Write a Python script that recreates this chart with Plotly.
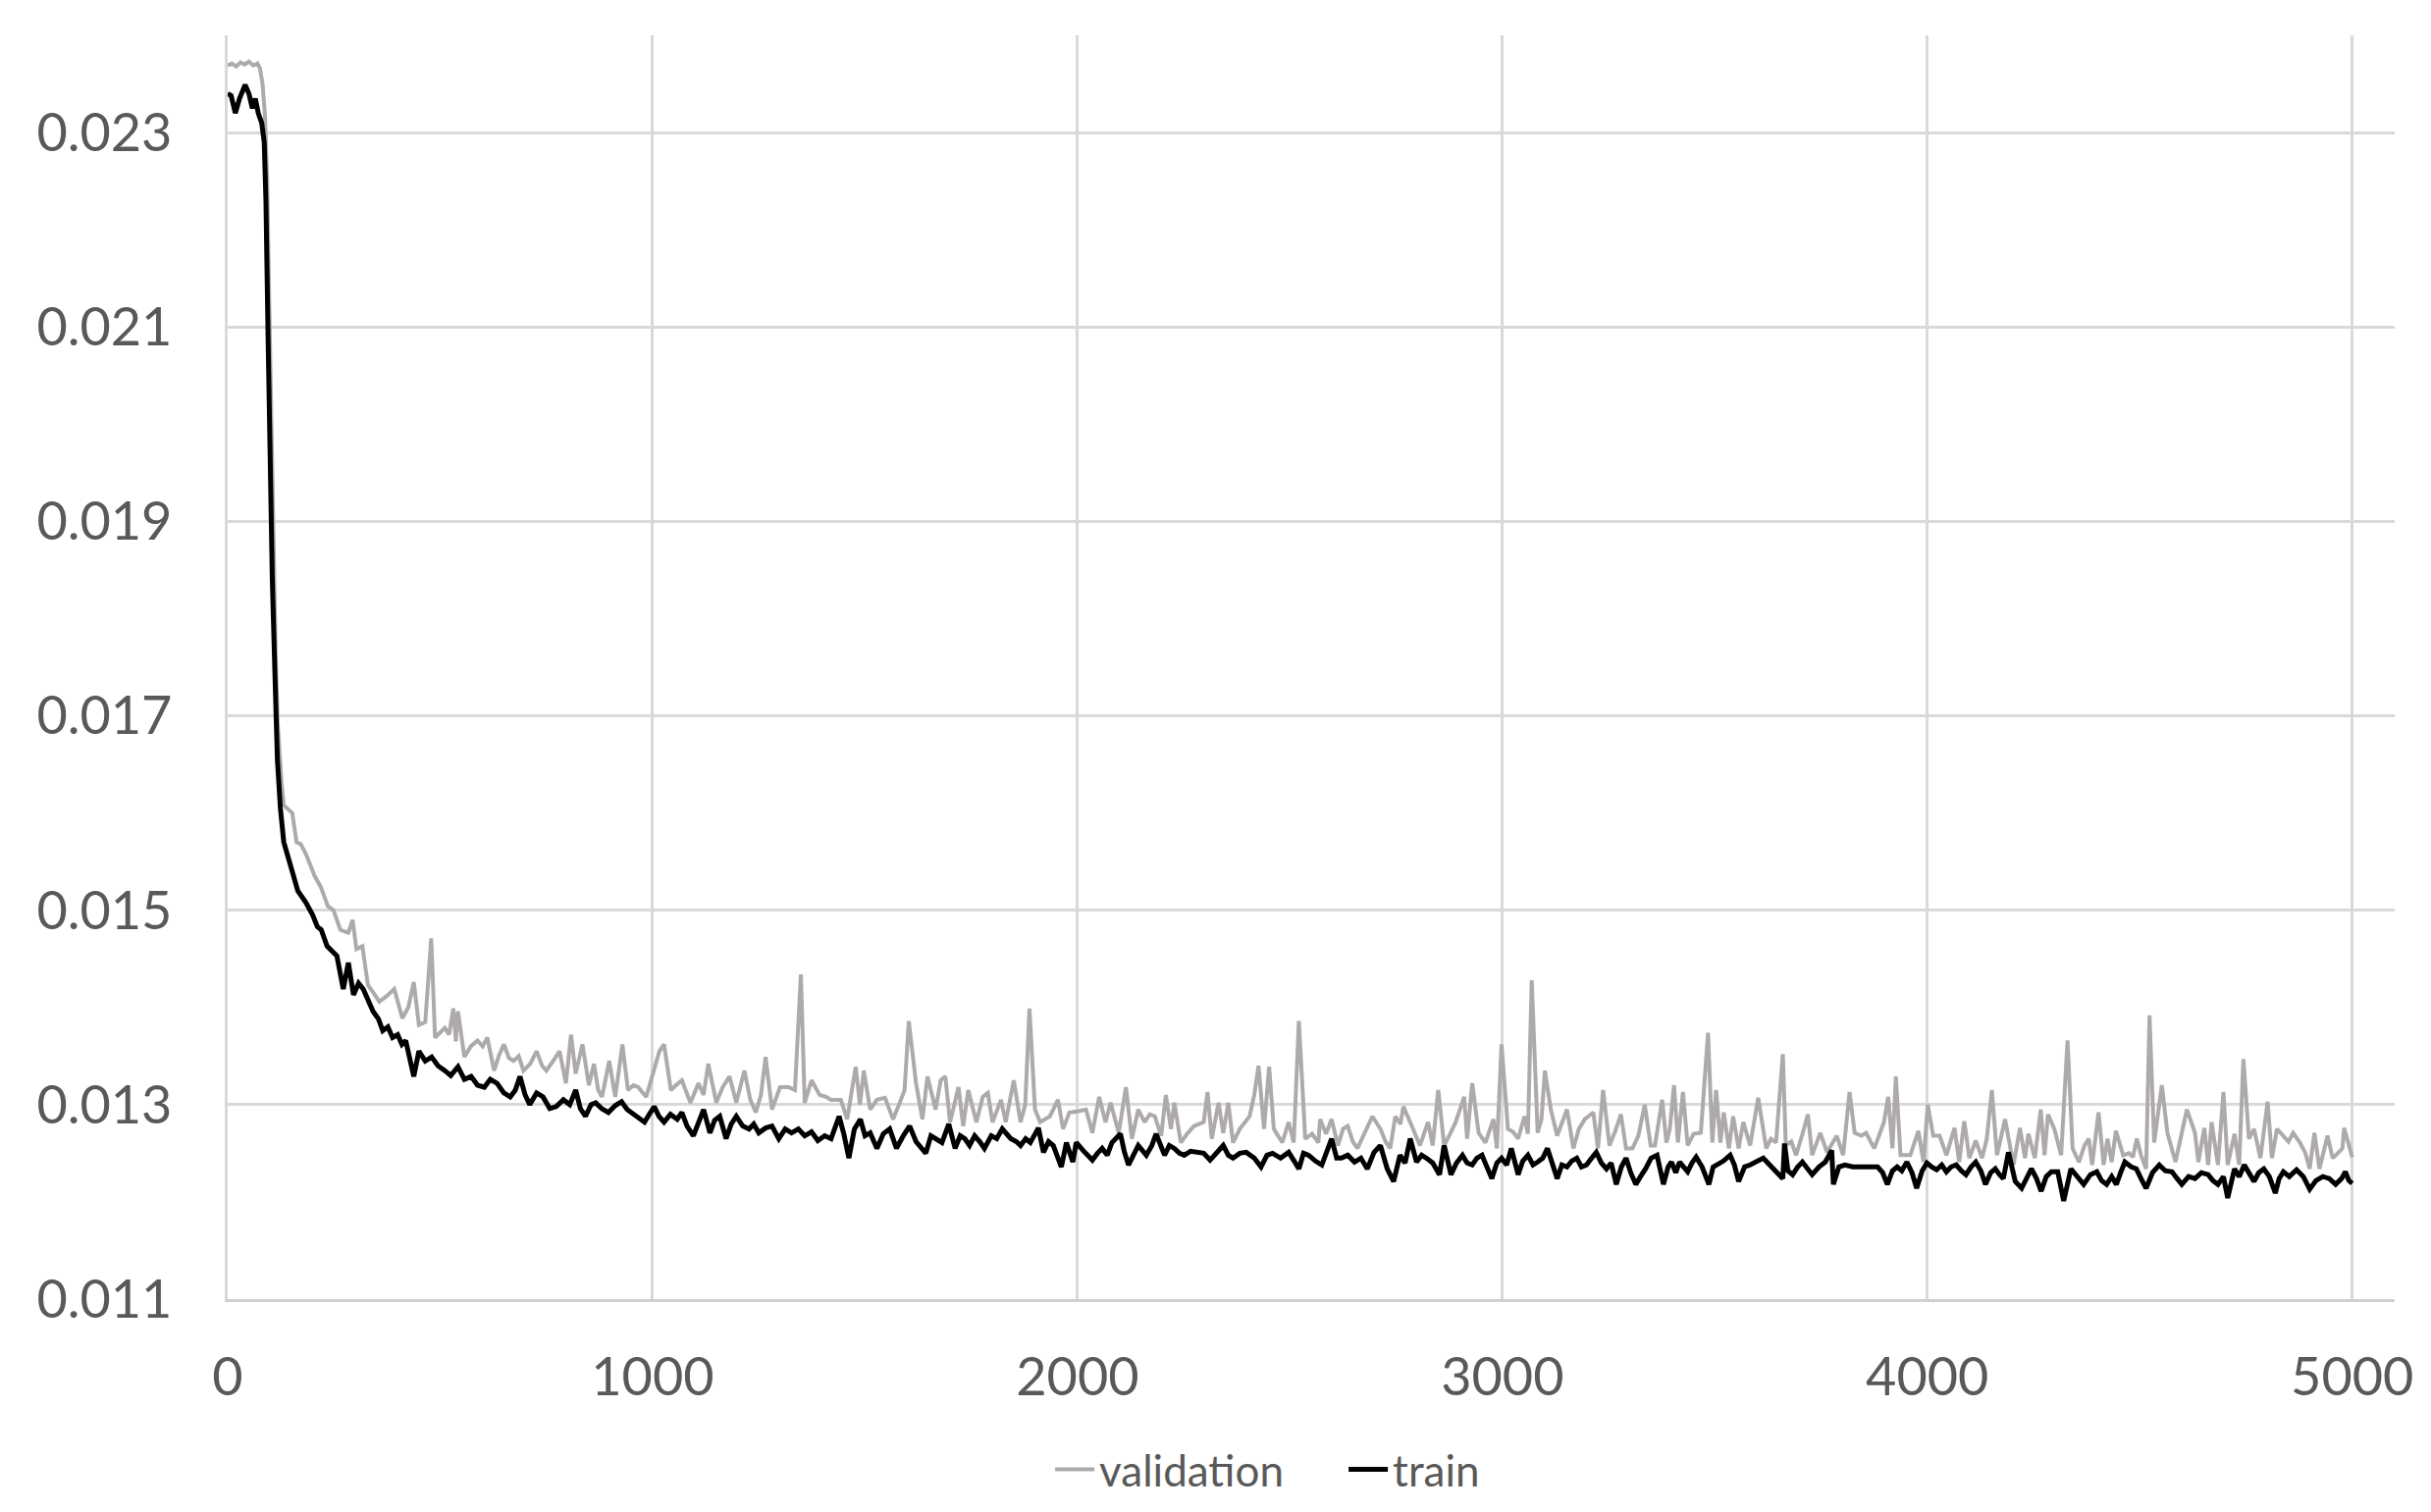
import plotly.graph_objects as go

# (step, loss) pairs
VALIDATION = [
    (0, 0.02369), (10, 0.02371), (20, 0.02368), (30, 0.02372), (40, 0.02370), (50, 0.02373),
    (60, 0.02369), (70, 0.02371), (76, 0.02366), (82, 0.0235), (88, 0.02316), (93, 0.0225),
    (98, 0.0212), (103, 0.0198), (108, 0.0186), (113, 0.0176), (118, 0.0169), (122, 0.01655),
    (127, 0.0163), (132, 0.01608), (140, 0.01605), (152, 0.0160), (162, 0.0157), (172, 0.01568),
    (184, 0.01558), (195, 0.01545), (205, 0.01535), (219, 0.01524), (236, 0.01504), (249, 0.0150),
    (265, 0.0148), (276, 0.01478), (284, 0.01477), (294, 0.0149), (303, 0.0146), (317, 0.01463),
    (330, 0.01423), (343, 0.01415), (357, 0.01406), (375, 0.01412), (392, 0.01419), (411, 0.01389),
    (425, 0.01400), (438, 0.01426), (450, 0.01382), (465, 0.01385), (479, 0.01471), (488, 0.01369),
    (500, 0.01375), (511, 0.01379), (521, 0.01372), (531, 0.01399), (537, 0.01365), (542, 0.01396),
    (557, 0.01349), (572, 0.01360), (588, 0.01366), (600, 0.01360), (611, 0.01369), (627, 0.01335),
    (638, 0.01350), (650, 0.01362), (662, 0.01348), (673, 0.01345), (685, 0.01350), (696, 0.01335),
    (712, 0.01342), (727, 0.01355), (740, 0.01340), (750, 0.01335), (766, 0.01345), (781, 0.01355),
    (796, 0.01322), (808, 0.01372), (819, 0.01332), (835, 0.01362), (850, 0.0132), (862, 0.01342),
    (872, 0.01315), (881, 0.01308), (898, 0.01345), (912, 0.01308), (929, 0.01362), (942, 0.01315),
    (955, 0.01320), (966, 0.01318), (985, 0.01308), (1000, 0.0133), (1016, 0.01355), (1027, 0.01362),
    (1043, 0.01315), (1055, 0.01320), (1069, 0.01325), (1089, 0.01302), (1108, 0.01322), (1120, 0.01310),
    (1131, 0.01342), (1150, 0.01302), (1165, 0.01318), (1181, 0.01329), (1197, 0.01302), (1216, 0.01335),
    (1230, 0.01305), (1243, 0.01292), (1255, 0.01310), (1266, 0.01349), (1281, 0.01295), (1300, 0.01318),
    (1320, 0.01318), (1335, 0.01315), (1349, 0.01434), (1358, 0.01302), (1374, 0.01325), (1393, 0.01310),
    (1408, 0.01308), (1420, 0.01305), (1443, 0.01305), (1458, 0.01285), (1478, 0.01339), (1488, 0.01300),
    (1497, 0.01335), (1512, 0.01295), (1528, 0.01305), (1547, 0.01307), (1566, 0.01285), (1580, 0.01300),
    (1593, 0.01315), (1603, 0.01386), (1620, 0.01322), (1635, 0.01285), (1647, 0.01329), (1666, 0.01295),
    (1678, 0.01325), (1689, 0.01329), (1700, 0.01282), (1710, 0.01300), (1720, 0.01318), (1731, 0.01278),
    (1743, 0.01315), (1762, 0.01282), (1777, 0.01308), (1789, 0.01312), (1800, 0.01282), (1820, 0.01305),
    (1831, 0.01282), (1850, 0.01325), (1866, 0.01282), (1877, 0.01300), (1887, 0.01399), (1900, 0.01295),
    (1912, 0.01282), (1935, 0.01288), (1954, 0.01305), (1966, 0.01275), (1981, 0.01292), (2000, 0.01293),
    (2020, 0.01295), (2035, 0.01271), (2051, 0.01308), (2066, 0.01282), (2078, 0.01302), (2097, 0.01271),
    (2114, 0.01318), (2128, 0.01265), (2143, 0.01295), (2158, 0.01282), (2170, 0.01290), (2182, 0.01288),
    (2197, 0.01268), (2208, 0.0131), (2220, 0.01275), (2228, 0.01302), (2243, 0.01261), (2258, 0.01270),
    (2274, 0.01278), (2297, 0.01282), (2306, 0.01313), (2316, 0.01265), (2332, 0.01302), (2343, 0.01271),
    (2355, 0.01302), (2366, 0.01261), (2382, 0.01275), (2405, 0.01288), (2416, 0.01310), (2426, 0.0134),
    (2439, 0.01275), (2451, 0.01339), (2462, 0.01275), (2482, 0.01261), (2497, 0.01282), (2509, 0.01261),
    (2521, 0.01386), (2536, 0.01265), (2552, 0.01270), (2567, 0.01261), (2571, 0.01285), (2585, 0.01270),
    (2598, 0.01285), (2613, 0.01258), (2625, 0.01275), (2636, 0.01278), (2648, 0.01262), (2659, 0.01255),
    (2676, 0.01272), (2694, 0.01288), (2713, 0.01275), (2725, 0.01262), (2736, 0.01255), (2748, 0.01288),
    (2760, 0.01280), (2767, 0.01298), (2783, 0.01282), (2795, 0.01270), (2806, 0.01258), (2825, 0.01282),
    (2836, 0.01258), (2849, 0.01315), (2863, 0.01258), (2877, 0.01270), (2890, 0.01282), (2910, 0.01308),
    (2917, 0.01265), (2929, 0.01322), (2944, 0.01271), (2960, 0.01261), (2979, 0.01285), (2987, 0.01255),
    (2998, 0.01362), (3013, 0.01275), (3025, 0.01272), (3037, 0.01265), (3052, 0.01288), (3060, 0.01270),
    (3069, 0.01428), (3083, 0.01271), (3092, 0.01285), (3100, 0.01335), (3114, 0.01295), (3129, 0.01268),
    (3140, 0.01280), (3152, 0.01295), (3167, 0.01255), (3180, 0.01275), (3194, 0.01285), (3214, 0.01292),
    (3225, 0.01255), (3237, 0.01315), (3252, 0.01258), (3265, 0.01272), (3279, 0.0129), (3291, 0.01255),
    (3306, 0.01255), (3320, 0.01268), (3335, 0.013), (3349, 0.01258), (3359, 0.01258), (3376, 0.01305),
    (3386, 0.01261), (3394, 0.01275), (3404, 0.0132), (3413, 0.01261), (3425, 0.01313), (3436, 0.01258),
    (3450, 0.01270), (3467, 0.01271), (3484, 0.01374), (3494, 0.01261), (3503, 0.01315), (3513, 0.01261),
    (3521, 0.01292), (3533, 0.01255), (3543, 0.01288), (3556, 0.01255), (3567, 0.01282), (3583, 0.01258),
    (3602, 0.01307), (3621, 0.01255), (3632, 0.01265), (3644, 0.01261), (3660, 0.01352), (3667, 0.01258),
    (3680, 0.01262), (3691, 0.01248), (3705, 0.01268), (3719, 0.0129), (3729, 0.01248), (3748, 0.01271),
    (3764, 0.01251), (3787, 0.01268), (3802, 0.01248), (3817, 0.01313), (3829, 0.01271), (3845, 0.01268),
    (3856, 0.01271), (3875, 0.01255), (3888, 0.01270), (3898, 0.01282), (3908, 0.01308), (3918, 0.01255),
    (3926, 0.01329), (3937, 0.01248), (3960, 0.01248), (3979, 0.01273), (3991, 0.01241), (4001, 0.013),
    (4014, 0.01268), (4029, 0.01268), (4045, 0.01248), (4064, 0.01276), (4075, 0.01241), (4087, 0.01283),
    (4099, 0.01245), (4114, 0.01263), (4129, 0.01245), (4140, 0.01265), (4152, 0.01315), (4164, 0.01248),
    (4183, 0.01285), (4195, 0.01258), (4203, 0.01238), (4218, 0.01276), (4230, 0.01245), (4238, 0.0127),
    (4253, 0.01245), (4267, 0.01295), (4276, 0.01248), (4284, 0.0129), (4299, 0.01275), (4315, 0.01248),
    (4330, 0.01366), (4342, 0.01255), (4357, 0.01241), (4370, 0.01258), (4380, 0.01265), (4388, 0.01238),
    (4403, 0.01292), (4415, 0.01238), (4424, 0.01265), (4434, 0.01241), (4444, 0.01273), (4461, 0.01248),
    (4475, 0.01250), (4484, 0.01246), (4493, 0.01265), (4503, 0.01248), (4515, 0.01234), (4523, 0.01392),
    (4534, 0.01261), (4552, 0.0132), (4565, 0.01271), (4584, 0.01241), (4598, 0.01270), (4611, 0.01295),
    (4630, 0.01271), (4638, 0.01241), (4652, 0.01276), (4661, 0.01238), (4669, 0.01282), (4684, 0.01238),
    (4697, 0.01313), (4707, 0.01238), (4723, 0.0127), (4734, 0.01238), (4744, 0.01347), (4757, 0.01265),
    (4769, 0.01275), (4784, 0.01245), (4801, 0.01303), (4811, 0.01245), (4823, 0.01275), (4838, 0.01268),
    (4850, 0.01262), (4861, 0.01271), (4877, 0.01261), (4890, 0.01250), (4900, 0.01234), (4911, 0.01271),
    (4923, 0.01234), (4942, 0.01268), (4954, 0.01245), (4966, 0.01250), (4977, 0.01255), (4981, 0.01276),
    (4992, 0.01258), (5000, 0.01246),
]

TRAIN = [
    (0, 0.0234), (8, 0.02338), (18, 0.0232), (28, 0.02335), (41, 0.02349), (50, 0.0234),
    (58, 0.02325), (65, 0.02335), (72, 0.0232), (80, 0.0231), (86, 0.0229), (90, 0.0223),
    (95, 0.0209), (100, 0.0194), (105, 0.0184), (112, 0.0173), (117, 0.01655), (124, 0.01605),
    (132, 0.0157), (142, 0.01555), (152, 0.01539), (165, 0.0152), (184, 0.01508), (200, 0.01495),
    (211, 0.01483), (220, 0.0148), (234, 0.01463), (257, 0.01453), (272, 0.01419), (284, 0.01446),
    (296, 0.01413), (308, 0.01425), (319, 0.01419), (330, 0.01408), (342, 0.01396), (355, 0.01388),
    (365, 0.01376), (377, 0.01380), (388, 0.01369), (400, 0.01372), (410, 0.01362), (419, 0.01366),
    (438, 0.01329), (450, 0.01355), (465, 0.01345), (480, 0.01349), (495, 0.01340), (511, 0.01335),
    (525, 0.01330), (542, 0.01339), (557, 0.01326), (573, 0.01329), (588, 0.01320), (604, 0.01318),
    (618, 0.01326), (634, 0.01322), (650, 0.01312), (665, 0.01308), (677, 0.01315), (688, 0.01329),
    (700, 0.01310), (711, 0.0130), (727, 0.01312), (742, 0.01308), (758, 0.01296), (773, 0.01298),
    (790, 0.01305), (805, 0.01300), (819, 0.01315), (830, 0.01296), (842, 0.01288), (855, 0.01300),
    (866, 0.01302), (880, 0.01296), (896, 0.01292), (912, 0.01299), (927, 0.01303), (940, 0.01295),
    (950, 0.01292), (966, 0.01288), (981, 0.01282), (992, 0.01290), (1004, 0.01298), (1015, 0.01288),
    (1027, 0.01282), (1042, 0.01290), (1058, 0.01285), (1069, 0.01292), (1081, 0.01278), (1096, 0.01268),
    (1108, 0.01280), (1120, 0.01295), (1135, 0.01271), (1146, 0.01284), (1158, 0.01288), (1173, 0.01265),
    (1185, 0.01280), (1197, 0.01288), (1212, 0.01278), (1227, 0.01275), (1238, 0.01280), (1250, 0.01271),
    (1266, 0.01276), (1281, 0.01278), (1297, 0.01265), (1312, 0.01275), (1327, 0.01271), (1343, 0.01275),
    (1358, 0.01268), (1374, 0.01272), (1389, 0.01263), (1405, 0.01268), (1420, 0.01265), (1439, 0.01288),
    (1450, 0.01270), (1462, 0.01245), (1475, 0.01275), (1489, 0.01285), (1500, 0.01268), (1512, 0.01271),
    (1528, 0.01255), (1543, 0.01270), (1558, 0.01275), (1574, 0.01255), (1590, 0.01268), (1605, 0.01278),
    (1620, 0.01262), (1643, 0.0125), (1655, 0.01268), (1666, 0.01265), (1681, 0.01261), (1697, 0.01280),
    (1712, 0.01255), (1724, 0.01268), (1735, 0.01265), (1746, 0.01258), (1758, 0.01268), (1770, 0.01262),
    (1781, 0.01255), (1797, 0.01268), (1810, 0.01265), (1823, 0.01275), (1843, 0.01265), (1856, 0.01262),
    (1866, 0.01258), (1878, 0.01265), (1889, 0.01261), (1908, 0.01276), (1920, 0.01251), (1932, 0.01262),
    (1943, 0.01258), (1962, 0.01236), (1974, 0.01261), (1989, 0.01241), (1997, 0.01261), (2015, 0.01252),
    (2035, 0.01243), (2047, 0.01250), (2058, 0.01255), (2070, 0.01248), (2081, 0.01261), (2101, 0.0127),
    (2110, 0.01252), (2120, 0.01238), (2132, 0.01250), (2143, 0.01258), (2162, 0.01248), (2175, 0.01258),
    (2185, 0.0127), (2205, 0.01248), (2216, 0.01258), (2228, 0.01255), (2240, 0.01250), (2251, 0.01248),
    (2266, 0.01252), (2282, 0.01251), (2297, 0.01250), (2312, 0.01243), (2328, 0.01250), (2343, 0.01258),
    (2355, 0.01248), (2366, 0.01245), (2382, 0.01250), (2397, 0.01251), (2416, 0.01245), (2432, 0.01236),
    (2446, 0.01248), (2459, 0.0125), (2478, 0.01245), (2497, 0.01251), (2510, 0.01242), (2521, 0.01234),
    (2532, 0.01250), (2544, 0.01248), (2560, 0.01242), (2575, 0.01238), (2598, 0.01265), (2610, 0.01245),
    (2621, 0.01245), (2636, 0.01248), (2652, 0.01241), (2667, 0.01245), (2682, 0.01234), (2698, 0.01251),
    (2713, 0.01258), (2729, 0.01234), (2744, 0.01221), (2759, 0.01248), (2771, 0.01240), (2783, 0.01265),
    (2798, 0.01241), (2810, 0.01248), (2821, 0.01245), (2836, 0.01240), (2852, 0.01228), (2863, 0.01258),
    (2879, 0.01228), (2892, 0.01240), (2906, 0.01248), (2917, 0.01240), (2929, 0.01238), (2940, 0.01245),
    (2952, 0.01248), (2965, 0.01236), (2975, 0.01224), (2987, 0.01240), (2998, 0.01245), (3010, 0.01238),
    (3021, 0.01255), (3037, 0.01228), (3048, 0.01242), (3060, 0.01248), (3072, 0.01238), (3083, 0.01241),
    (3095, 0.01245), (3106, 0.01255), (3118, 0.01240), (3129, 0.01224), (3140, 0.01238), (3152, 0.01236),
    (3163, 0.01242), (3175, 0.01245), (3186, 0.01236), (3198, 0.01238), (3210, 0.01245), (3221, 0.01251),
    (3233, 0.01240), (3245, 0.01234), (3256, 0.01240), (3268, 0.01218), (3280, 0.01236), (3291, 0.01245),
    (3302, 0.01230), (3314, 0.01218), (3325, 0.01226), (3337, 0.01234), (3350, 0.01245), (3364, 0.01248),
    (3379, 0.01218), (3390, 0.01236), (3398, 0.01241), (3408, 0.01230), (3417, 0.01241), (3426, 0.01236),
    (3436, 0.01231), (3446, 0.01240), (3456, 0.01246), (3470, 0.01236), (3486, 0.01218), (3496, 0.01236),
    (3506, 0.01238), (3520, 0.01242), (3536, 0.01248), (3546, 0.01238), (3556, 0.01221), (3570, 0.01236),
    (3583, 0.01238), (3598, 0.01242), (3614, 0.01245), (3629, 0.01238), (3644, 0.01232), (3660, 0.01224),
    (3664, 0.0126), (3672, 0.01232), (3683, 0.01228), (3695, 0.01236), (3706, 0.01241), (3718, 0.01235),
    (3729, 0.01228), (3745, 0.01236), (3760, 0.01241), (3775, 0.01253), (3779, 0.01218), (3792, 0.01236),
    (3806, 0.01238), (3825, 0.01236), (3845, 0.01236), (3864, 0.01235), (3883, 0.01236), (3895, 0.01230),
    (3906, 0.01218), (3918, 0.01232), (3929, 0.01236), (3940, 0.01232), (3952, 0.01241), (3964, 0.01230),
    (3975, 0.01214), (3988, 0.01232), (3999, 0.0124), (4010, 0.01236), (4022, 0.01233), (4034, 0.01238),
    (4045, 0.01231), (4056, 0.01236), (4068, 0.01238), (4080, 0.01232), (4091, 0.01228), (4103, 0.01236),
    (4114, 0.01241), (4126, 0.01232), (4137, 0.01218), (4149, 0.01230), (4160, 0.01234), (4170, 0.01228),
    (4179, 0.01224), (4191, 0.01251), (4200, 0.01235), (4207, 0.01221), (4222, 0.01214), (4234, 0.01226),
    (4245, 0.01234), (4257, 0.01224), (4268, 0.01211), (4280, 0.01226), (4292, 0.01231), (4307, 0.01231),
    (4321, 0.01201), (4338, 0.01234), (4353, 0.01226), (4368, 0.01218), (4384, 0.01228), (4399, 0.01231),
    (4410, 0.01222), (4422, 0.01218), (4434, 0.01226), (4445, 0.01218), (4455, 0.01230), (4465, 0.01241),
    (4480, 0.01236), (4492, 0.01234), (4503, 0.01224), (4515, 0.01214), (4530, 0.01230), (4546, 0.01238),
    (4560, 0.01232), (4576, 0.01231), (4588, 0.01224), (4599, 0.01218), (4615, 0.01226), (4630, 0.01224),
    (4645, 0.01230), (4661, 0.01228), (4672, 0.01222), (4684, 0.01218), (4697, 0.01226), (4707, 0.01204),
    (4723, 0.01234), (4734, 0.01226), (4746, 0.01238), (4757, 0.01230), (4769, 0.01221), (4780, 0.01230),
    (4792, 0.01234), (4805, 0.01226), (4819, 0.01209), (4828, 0.01224), (4838, 0.01231), (4852, 0.01226),
    (4869, 0.01233), (4885, 0.01226), (4900, 0.01213), (4915, 0.01222), (4931, 0.01226), (4946, 0.01224),
    (4961, 0.01218), (4975, 0.01224), (4984, 0.01231), (4992, 0.01222), (5000, 0.01219),
]

X_TICKS = [0, 1000, 2000, 3000, 4000, 5000]
Y_TICKS = [0.011, 0.013, 0.015, 0.017, 0.019, 0.021, 0.023]

GRID = "#D9D9D9"
TEXT = "#595959"
FONT = "Lato"

fig = go.Figure()
for name, pts, color, width in [
    ("validation", VALIDATION, "#AEAAAA", 4),
    ("train", TRAIN, "#000000", 5),
]:
    xs, ys = zip(*pts)
    fig.add_trace(go.Scatter(
        x=list(xs), y=list(ys), mode="lines", name=name,
        line=dict(color=color, width=width),
    ))

fig.update_layout(
    width=2477,
    height=1541,
    paper_bgcolor="white",
    plot_bgcolor="white",
    margin=dict(l=232, r=37, t=36, b=217, autoexpand=False),
    font=dict(family=FONT, color=TEXT, size=54),
    showlegend=True,
    legend=dict(
        orientation="h",
        x=0.515, xanchor="center",
        yref="container", y=0.028, yanchor="middle",
        font=dict(size=44, color=TEXT),
        itemwidth=40,
        entrywidth=244,
    ),
    xaxis=dict(
        range=[0, 5100],
        tickvals=X_TICKS,
        showgrid=True, gridcolor=GRID, gridwidth=2.5,
        zeroline=False,
        showline=True, linecolor="#D0D0D0", linewidth=3,
        ticks="", ticklabelstandoff=30,
        tickfont=dict(size=54, color=TEXT),
    ),
    yaxis=dict(
        range=[0.011, 0.024],
        tickvals=Y_TICKS,
        tickformat=".3f",
        showgrid=True, gridcolor=GRID, gridwidth=2.5,
        zeroline=False,
        showline=True, linecolor=GRID, linewidth=2.5,
        ticks="", ticklabelstandoff=43,
        tickfont=dict(size=54, color=TEXT),
    ),
)

fig.write_html(
    "out.html",
    config={"displayModeBar": False},
    post_script="document.body.style.margin='0';document.body.style.overflow='hidden';",
)
